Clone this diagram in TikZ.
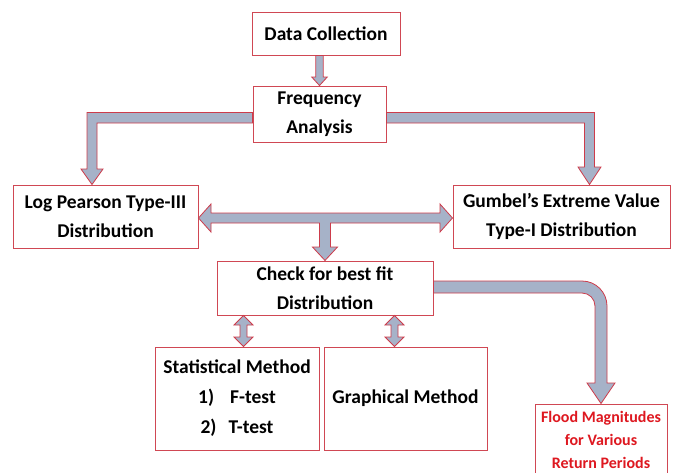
\documentclass[tikz,border=0pt]{standalone}
\usepackage{fontspec}
\setmainfont{Carlito}
\usetikzlibrary{calc}
\definecolor{boxred}{RGB}{208,72,84}
\definecolor{arrred}{RGB}{205,60,75}
\definecolor{arrfill}{RGB}{166,178,200}
\definecolor{floodred}{RGB}{222,24,32}
\tikzset{
  box/.style={draw=boxred, line width=1pt, fill=white, inner sep=0pt, align=center,
    font=\fontsize{19.5}{28.5}\selectfont\bfseries},
  blk/.style={draw=arrred, line width=0.8pt, fill=arrfill, line join=miter},
}
\begin{document}
\begin{tikzpicture}[x=1pt,y=1pt]
\clip (0,0) rectangle (673,-472);
\fill[white] (0,0) rectangle (673,-472);
% boxes
\node[box, minimum width=148pt, minimum height=43pt] (dc) at (326,-33.5) {Data Collection};
\node[box, minimum width=133pt, minimum height=56pt] (fa) at (319.5,-114) {Frequency\\Analysis};
\node[box, minimum width=185pt, minimum height=63pt] (lp) at (105.5,-216.5) {Log Pearson Type-III\\Distribution};
\node[box, minimum width=217pt, minimum height=63pt] (gu) at (561.5,-216.5) {Gumbel’s Extreme Value\\Type-I Distribution};
\node[box, minimum width=216pt, minimum height=54pt] (cb) at (325,-288) {Check for best fit\\Distribution};
\node[box, minimum width=164pt, minimum height=103pt, font=\fontsize{19.5}{30}\selectfont\bfseries] (sm) at (237,-398.5) {Statistical Method\\1)\hspace{16pt}F-test\\2)\hspace{12pt}T-test};
\node[box, minimum width=163pt, minimum height=103pt] (gm) at (405.5,-398.5) {Graphical Method};
\node[box, minimum width=132pt, minimum height=78pt, text=floodred, font=\fontsize{16}{23}\selectfont\bfseries] (fm) at (601,-443) {};
\node[text=floodred, font=\fontsize{16}{23}\selectfont\bfseries, align=center, inner sep=0pt] (fmt) at (601,-439.5) {Flood Magnitudes\\for Various\\Return Periods};
% arrows
\draw[blk] (fa.north) -- (311.7,-77) -- (315.8,-77) -- (dc.south -| 315.8,0) -- (dc.south -| 323.2,0) -- (323.2,-77) -- (327.3,-77) -- cycle;
\draw[blk] (fa.west |- 0,-112.5) -- (87,-112.5) -- (87,-169) -- (81,-169) -- (lp.north -| 92,0) -- (103,-169) -- (97,-169) -- (97,-123) -- (fa.west |- 0,-123) -- cycle;
\draw[blk] (fa.east |- 0,-112.5) -- (594.5,-112.5) -- (594.5,-167) -- (601,-167) -- (gu.north -| 589.5,0) -- (578,-167) -- (584.5,-167) -- (584.5,-123) -- (fa.east |- 0,-123) -- cycle;
\draw[blk] (lp.east |- 0,-218) -- (211,-204) -- (211,-213) -- (440,-213) -- (440,-204) -- (gu.west |- 0,-218) -- (440,-232) -- (440,-223) -- (330.5,-223) -- (330.5,-247) -- (337.5,-247) -- (cb.north) -- (312.5,-247) -- (319.5,-247) -- (319.5,-223) -- (211,-223) -- (211,-232) -- cycle;
\draw[blk] (cb.south -| 243.5,0) -- (253,-325) -- (247,-325) -- (247,-337) -- (253,-337) -- (sm.north -| 243.5,0) -- (234,-337) -- (240,-337) -- (240,-325) -- (234,-325) -- cycle;
\draw[blk] (cb.south -| 394.5,0) -- (404,-325) -- (398,-325) -- (398,-337) -- (404,-337) -- (gm.north -| 394.5,0) -- (385,-337) -- (391,-337) -- (391,-325) -- (385,-325) -- cycle;
\draw[blk] (cb.east |- 0,-281) -- (582,-281) arc[start angle=90, end angle=0, radius=25] -- (607,-383) -- (615,-383) -- (fm.north) -- (587,-383) -- (595,-383) -- (595,-306) arc[start angle=0, end angle=90, radius=13] -- (cb.east |- 0,-293) -- cycle;
\end{tikzpicture}
\end{document}
